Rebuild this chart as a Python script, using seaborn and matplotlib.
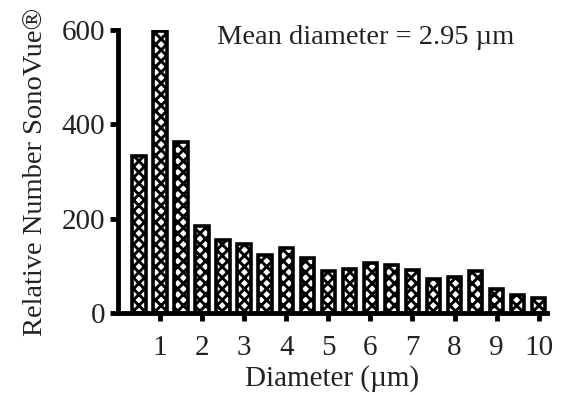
import matplotlib
matplotlib.use("Agg")
import matplotlib.pyplot as plt
import seaborn as sns
import pandas as pd

# Size distribution of SonoVue microbubbles (0.5 µm bins)
diameters = [0.5, 1.0, 1.5, 2.0, 2.5, 3.0, 3.5, 4.0, 4.5, 5.0,
             5.5, 6.0, 6.5, 7.0, 7.5, 8.0, 8.5, 9.0, 9.5, 10.0]
counts = [332, 597, 362, 184, 154, 147, 124, 137, 116, 90,
          94, 107, 101, 92, 73, 77, 88, 50, 39, 31]
x_ticks = [1, 2, 3, 4, 5, 6, 7, 8, 9, 10]
y_ticks = [0, 200, 400, 600]

df = pd.DataFrame({"Diameter": diameters, "Count": counts})

sns.set_theme(style="ticks")
plt.rcParams["font.family"] = ["Liberation Serif", "DejaVu Serif"]
plt.rcParams["hatch.linewidth"] = 2.1
plt.rcParams["hatch.color"] = "black"

fig = plt.figure(figsize=(5.67, 3.95), dpi=100)
ax = fig.add_axes([0.208, 0.2076, 0.757, 0.7164])

sns.barplot(data=df, x="Diameter", y="Count", native_scale=True, width=0.64,
            color="white", saturation=1, edgecolor="black", linewidth=2.6,
            hatch="xxx", ax=ax)

ax.set_xlim(0, 10.2)
ax.set_ylim(0, 600)
ax.set_xticks(x_ticks)
ax.set_xticklabels([str(t) for t in x_ticks])
ax.set_yticks(y_ticks)
ax.set_yticklabels([str(t) for t in y_ticks])

sns.despine(ax=ax)
for side in ("left", "bottom"):
    ax.spines[side].set_linewidth(3.5)
    ax.spines[side].set_color("black")
ax.tick_params(axis="both", direction="out", length=6, width=3.5,
               color="black", labelsize=21, labelcolor="#222222")
ax.tick_params(axis="x", pad=10)
ax.tick_params(axis="y", pad=3)

ax.set_xlabel("Diameter (\u00b5m)", fontsize=21, color="#222222", labelpad=3)
ax.set_ylabel("Relative Number SonoVue\u00ae", fontsize=20.5, color="#222222",
              labelpad=10)

ax.text(0.231, 0.972, "Mean diameter = 2.95 \u00b5m", transform=ax.transAxes,
        ha="left", va="center", fontsize=20.5, color="#222222")

fig.savefig("out.png", dpi=100)
